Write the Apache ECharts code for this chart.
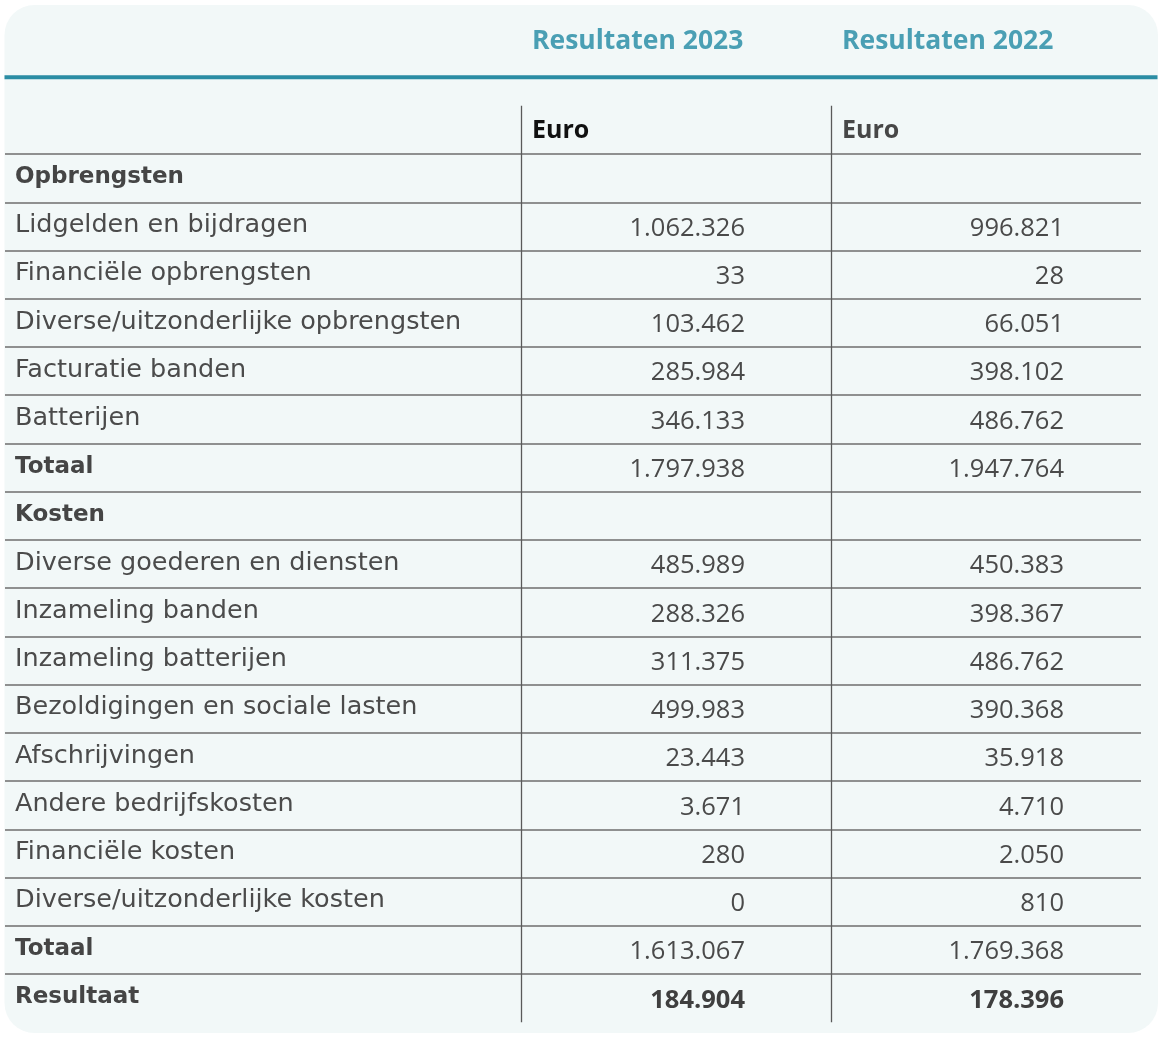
<!DOCTYPE html>
<html>
<head>
<meta charset="utf-8">
<script src="https://cdn.jsdelivr.net/npm/echarts@6/dist/echarts.min.js"></script>
<style>
html,body{margin:0;padding:0;background:#ffffff;}
#chart{width:1164px;height:1041px;}
</style>
</head>
<body>
<div id="chart"></div>
<script>
// ---- data ----
const rowLabels = ['', 'Opbrengsten', 'Lidgelden en bijdragen', 'Financiële opbrengsten',
  'Diverse/uitzonderlijke opbrengsten', 'Facturatie banden', 'Batterijen', 'Totaal',
  'Kosten', 'Diverse goederen en diensten', 'Inzameling banden', 'Inzameling batterijen',
  'Bezoldigingen en sociale lasten', 'Afschrijvingen', 'Andere bedrijfskosten',
  'Financiële kosten', 'Diverse/uitzonderlijke kosten', 'Totaal', 'Resultaat'];
const rowTypes = ['unit', 'section', 'item', 'item', 'item', 'item', 'item', 'total',
  'section', 'item', 'item', 'item', 'item', 'item', 'item', 'item', 'item', 'total', 'result'];
const columnHeaders = ['Resultaten 2023', 'Resultaten 2022'];
const unitLabels = ['Euro', 'Euro'];
const values2023 = [null, null, 1062326, 33, 103462, 285984, 346133, 1797938,
  null, 485989, 288326, 311375, 499983, 23443, 3671, 280, 0, 1613067, 184904];
const values2022 = [null, null, 996821, 28, 66051, 398102, 486762, 1947764,
  null, 450383, 398367, 486762, 390368, 35918, 4710, 2050, 810, 1769368, 178396];

// ---- helpers ----
function fmt(v) {
  return String(v).replace(/\B(?=(\d{3})+(?!\d))/g, '.');
}
const rowIds = rowLabels.map((_, i) => String(i));
const valueColumns = [values2023, values2022];
const cellData = [];
valueColumns.forEach((col, c) => {
  col.forEach((v, r) => { if (v !== null) cellData.push([c, r, v]); });
});
const headData = columnHeaders.map((h, c) => [c, 0]);

const chart = echarts.init(document.getElementById('chart'), null, {renderer: 'canvas'});
const TOP = 105.8, ROWH = 48.24, H = ROWH * rowLabels.length;
const lineColor = '#6e6e6e';
const padRight = [86, 77];

const option = {
  animation: false,
  backgroundColor: '#ffffff',
  graphic: [
    {type: 'rect', z: -10, shape: {x: 4.5, y: 5, width: 1153.5, height: 1028, r: 30},
      style: {fill: '#f2f8f8'}},
    {type: 'line', z: 10, shape: {x1: 4.5, y1: 77.2, x2: 1157.5, y2: 77.2},
      style: {stroke: '#2b8da4', lineWidth: 4}}
  ],
  grid: [
    {left: 5, top: TOP, width: 516, height: H},
    {left: 521, top: TOP, width: 620, height: H}
  ],
  xAxis: [
    {gridIndex: 0, type: 'value', show: false, min: 0, max: 1},
    {gridIndex: 1, type: 'category', data: columnHeaders, boundaryGap: true,
      axisLine: {show: false}, axisTick: {show: false}, axisLabel: {show: false},
      splitLine: {show: true, interval: 0, showMinLine: true, showMaxLine: false,
        lineStyle: {color: '#5a5a5a', width: 1.3}}}
  ],
  yAxis: [
    {gridIndex: 0, type: 'category', inverse: true, data: rowIds,
      axisLine: {show: false}, axisTick: {show: false},
      axisLabel: {inside: true, margin: 10, interval: 0,
        formatter: function (val, idx) {
          const t = rowTypes[idx];
          const bold = (t === 'section' || t === 'total' || t === 'result');
          return rowLabels[idx] ? (bold ? '{b|' + rowLabels[idx] + '}' : '{n|' + rowLabels[idx] + '}') : '';
        },
        rich: {
          n: {fontFamily: 'DejaVu Sans', fontSize: 25.5, color: '#4b4b4b', padding: [0, 0, 2, 0]},
          b: {fontFamily: 'DejaVu Sans', fontWeight: 'bold', fontSize: 23, color: '#454545', padding: [0, 0, 2, 0]}
        }},
      splitLine: {show: true, interval: 0, showMinLine: false, showMaxLine: false,
        lineStyle: {color: lineColor, width: 1.5}}},
    {gridIndex: 1, type: 'category', inverse: true, data: rowIds,
      axisLine: {show: false}, axisTick: {show: false}, axisLabel: {show: false},
      splitLine: {show: true, interval: 0, showMinLine: false, showMaxLine: false,
        lineStyle: {color: lineColor, width: 1.5}}}
  ],
  series: [
    {
      type: 'custom', xAxisIndex: 1, yAxisIndex: 1, data: cellData,
      renderItem: function (params, api) {
        const c = api.value(0), r = api.value(1), v = api.value(2);
        const pt = api.coord([c, r]);
        const sz = api.size([1, 1]);
        const isResult = rowTypes[r] === 'result';
        return {
          type: 'text',
          style: {
            x: pt[0] + sz[0] / 2 - padRight[c], y: pt[1] + 2,
            text: fmt(v), align: 'right', verticalAlign: 'middle',
            fill: isResult ? '#3f3f3f' : '#4a4a4a',
            font: (isResult ? '700 ' : '400 ') + '25.5px "Open Sans"'
          }
        };
      }
    },
    {
      type: 'custom', xAxisIndex: 1, yAxisIndex: 1, data: headData,
      renderItem: function (params, api) {
        const c = api.value(0), r = api.value(1);
        const pt = api.coord([c, r]);
        const sz = api.size([1, 1]);
        const left = pt[0] - sz[0] / 2 + 11;
        return {
          type: 'group',
          children: [
            {type: 'text', style: {x: left, y: pt[1] + 1, text: unitLabels[c],
              align: 'left', verticalAlign: 'middle',
              fill: c === 0 ? '#111111' : '#474747', font: 'bold 25px "Open Sans"'}},
            {type: 'text', style: {x: left, y: pt[1] - 88, text: columnHeaders[c],
              align: 'left', verticalAlign: 'middle',
              fill: '#4a9fb4', font: 'bold 26.5px "Open Sans"'}}
          ]
        };
      }
    }
  ]
};
chart.setOption(option);
</script>
</body>
</html>
